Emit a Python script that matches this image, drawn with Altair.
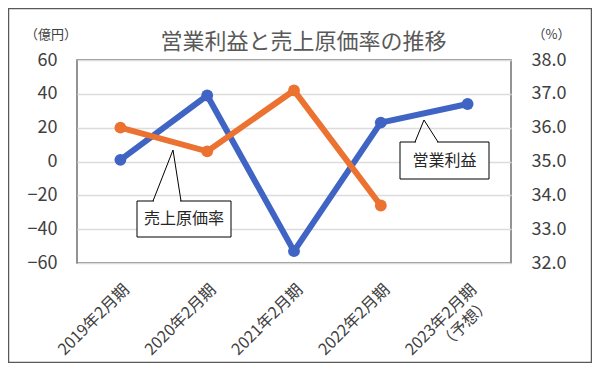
import altair as alt
import pandas as pd

# ---- data ----
categories = ["2019年2月期", "2020年2月期", "2021年2月期", "2022年2月期", "2023年2月期|（予想）"]
operating_profit = [1, 39, -53, 23, 34]          # 営業利益（億円）
cost_ratio = [36.0, 35.3, 37.1, 33.7, None]       # 売上原価率（%）
left_ticks = [-60, -40, -20, 0, 20, 40, 60]
right_ticks = [32, 33, 34, 35, 36, 37, 38]

df = pd.DataFrame({"period": categories, "profit": operating_profit, "ratio": cost_ratio})

FONT = "Noto Sans CJK JP"
BLUE = "#3F64C4"
ORANGE = "#EB7231"
TXT = "#404040"

x_axis = alt.Axis(title=None, labelAngle=-45, labelAlign="right", labelBaseline="top",
                  labelPadding=18, ticks=False, domain=False, labelFontSize=16,
                  labelColor=TXT, labelFont=FONT, labelLineHeight=20,
                  labelExpr="split(datum.label, '|')", labelOverlap=False)
x_enc = alt.X("period:N", sort=categories,
              scale=alt.Scale(type="point", padding=0.5), axis=x_axis)

left_y = alt.Y("profit:Q",
               scale=alt.Scale(domain=[-60, 60], nice=False, zero=False),
               axis=alt.Axis(title=None, values=left_ticks, orient="left", grid=True,
                             gridColor="#dcdcdc", gridWidth=1.5, domain=False, ticks=False,
                             labelPadding=20, labelFontSize=18, labelColor=TXT, labelFont=FONT))
right_y = alt.Y("ratio:Q",
                scale=alt.Scale(domain=[32, 38], nice=False, zero=False),
                axis=alt.Axis(title=None, values=right_ticks, orient="right", grid=False,
                              domain=False, ticks=False, format=".1f",
                              labelPadding=20, labelFontSize=18, labelColor=TXT, labelFont=FONT))

base = alt.Chart(df)
profit_layer = alt.layer(
    base.mark_line(color=BLUE, strokeWidth=6).encode(x=x_enc, y=left_y),
    base.mark_circle(color=BLUE, size=140, opacity=1).encode(x=x_enc, y=left_y),
)
ratio_layer = alt.layer(
    base.mark_line(color=ORANGE, strokeWidth=6).encode(x=x_enc, y=right_y),
    base.mark_circle(color=ORANGE, size=140, opacity=1).encode(x=x_enc, y=right_y),
)

one = alt.Data(values=[{"k": 1}])


def rect(x, x2, y, y2, **kw):
    return alt.Chart(one).mark_rect(**kw).encode(
        x=alt.value(x), x2=alt.value(x2), y=alt.value(y), y2=alt.value(y2))


def seg(x, y, x2, y2, **kw):
    return alt.Chart(one).mark_rule(**kw).encode(
        x=alt.value(x), y=alt.value(y), x2=alt.value(x2), y2=alt.value(y2))


def label(text, x, y, **kw):
    return alt.Chart(one).mark_text(text=text, font=FONT, **kw).encode(
        x=alt.value(x), y=alt.value(y))


outer = rect(-68.5, 514.5, -51.5, 302.5, fillOpacity=0, stroke="#595959", strokeWidth=1.5)

# callout: 売上原価率
c1 = [
    rect(60, 154, 141, 177, fill="white", stroke="black", strokeWidth=1),
    seg(77, 141, 103, 141, color="white", strokeWidth=2),
    seg(76, 141, 96, 90, color="black", strokeWidth=1),
    seg(104, 141, 96, 90, color="black", strokeWidth=1),
    label("売上原価率", 107, 159, fontSize=16, color="#262626", align="center", baseline="middle"),
]
# callout: 営業利益
c2 = [
    rect(323, 412, 82, 119, fill="white", stroke="black", strokeWidth=1),
    seg(339, 82, 360, 82, color="white", strokeWidth=2),
    seg(338, 82, 347, 60, color="black", strokeWidth=1),
    seg(361, 82, 347, 60, color="black", strokeWidth=1),
    label("営業利益", 367.5, 100.5, fontSize=16, color="#262626", align="center", baseline="middle"),
]

texts = [
    label("営業利益と売上原価率の推移", 226.5, -18, fontSize=22, color="#595959",
          align="center", baseline="middle"),
    label("（億円）", -26, -25, fontSize=13, color=TXT, align="center", baseline="middle"),
    label("（%）", 474.5, -25, fontSize=13, color=TXT, align="center", baseline="middle"),
]

chart = alt.layer(
    outer, profit_layer, ratio_layer, *c1, *c2, *texts
).resolve_scale(y="independent").properties(
    width=434, height=203, autosize="none",
    padding={"left": 69, "top": 52, "right": 81, "bottom": 100},
    background="white",
).configure_view(stroke="#707070", strokeWidth=1.5)

chart.save("out.html", embed_options={"renderer": "svg", "actions": False})
